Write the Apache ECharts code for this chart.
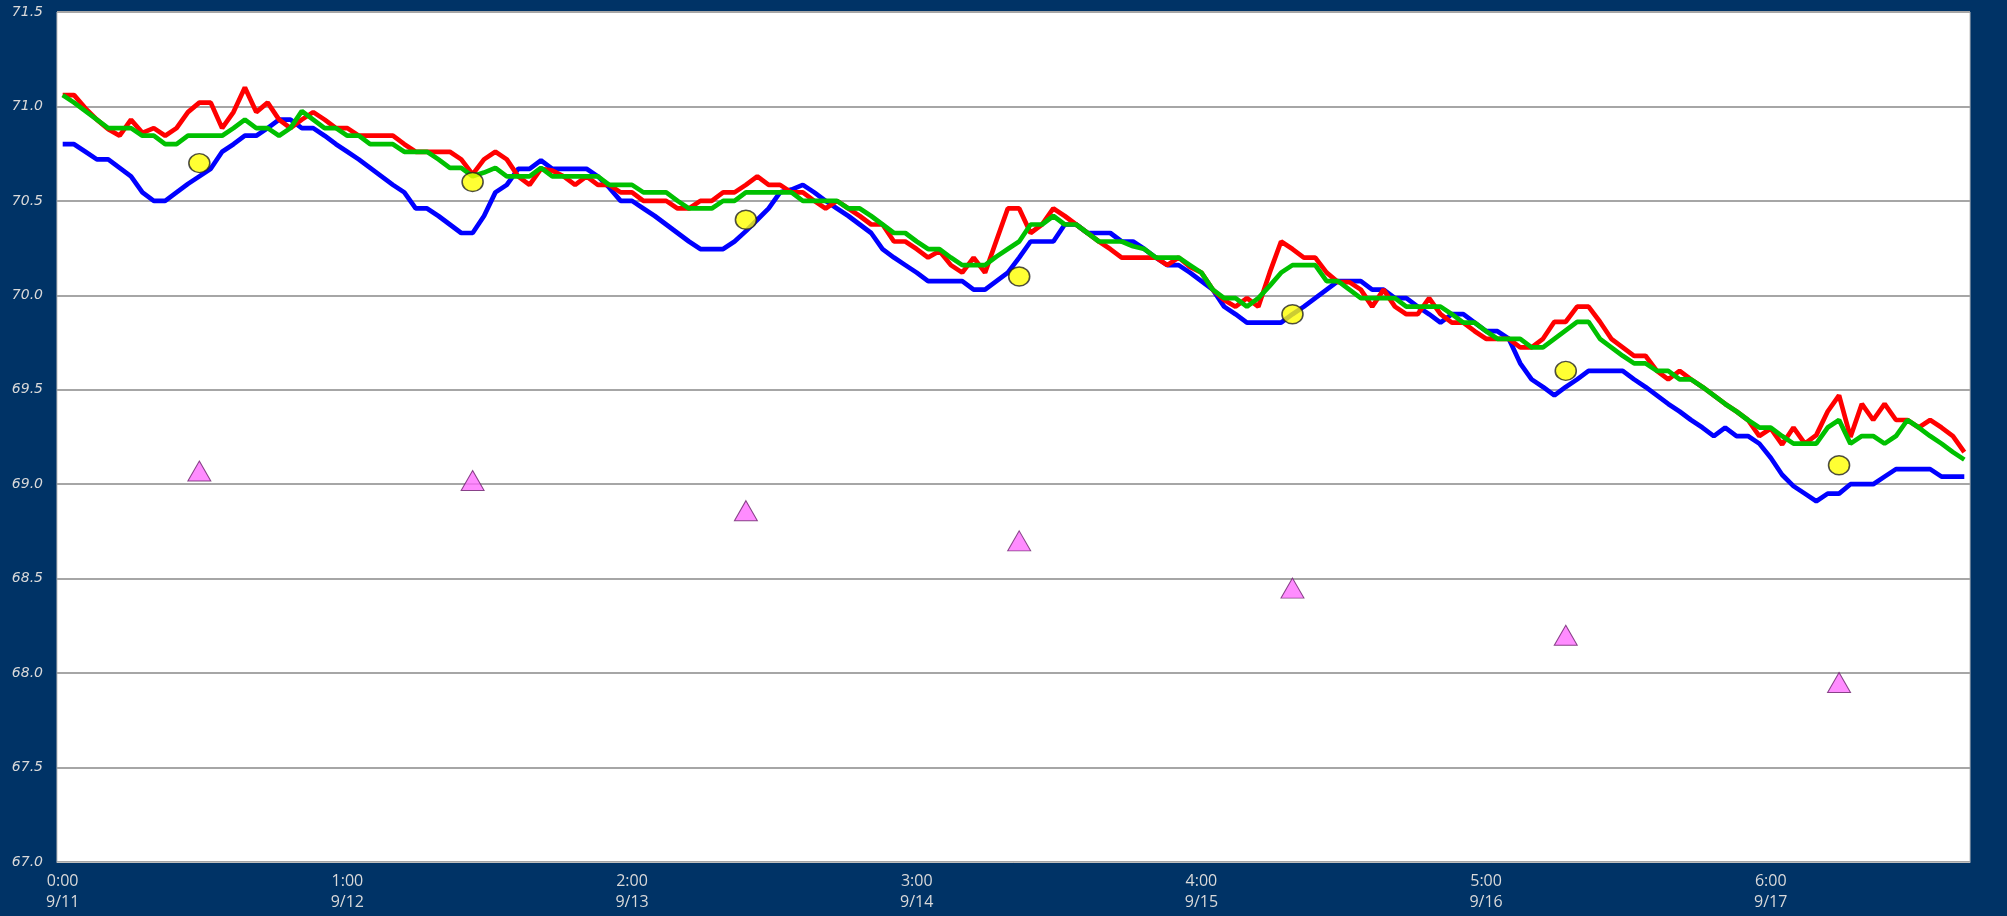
<!DOCTYPE html>
<html>
<head>
<meta charset="utf-8">
<script src="https://cdn.jsdelivr.net/npm/echarts@6/dist/echarts.min.js"></script>
<style>
html, body { margin: 0; padding: 0; background: #003366; }
#chart { width: 2007px; height: 916px; }
</style>
</head>
<body>
<div id="chart"></div>
<script>
// hourly readings 9/11 0:00 .. 9/17 23:00
var days = ['9/11', '9/12', '9/13', '9/14', '9/15', '9/16', '9/17'];
var categories = [];
for (var d = 0; d < days.length; d++) {
	for (var h = 0; h < 24; h++) {
		categories.push(h + ':00\n' + days[d]);
	}
}

var redData = [
	71.06, 71.06, 70.99, 70.93, 70.88, 70.845, 70.93, 70.86, 70.885, 70.845, 70.885, 70.97,
	71.02, 71.02, 70.885, 70.97, 71.10, 70.97, 71.02, 70.93, 70.885, 70.93, 70.97, 70.93,
	70.885, 70.885, 70.845, 70.845, 70.845, 70.845, 70.80, 70.76, 70.76, 70.76, 70.76, 70.72,
	70.64, 70.72, 70.76, 70.72, 70.63, 70.585, 70.67, 70.66, 70.63, 70.585, 70.63, 70.585,
	70.585, 70.545, 70.545, 70.50, 70.50, 70.50, 70.46, 70.46, 70.50, 70.50, 70.545, 70.545,
	70.585, 70.63, 70.585, 70.585, 70.545, 70.545, 70.50, 70.46, 70.50, 70.46, 70.42, 70.375,
	70.375, 70.285, 70.285, 70.245, 70.20, 70.235, 70.16, 70.12, 70.20, 70.12, 70.29, 70.46,
	70.46, 70.33, 70.375, 70.46, 70.42, 70.375, 70.33, 70.285, 70.245, 70.20, 70.20, 70.20,
	70.20, 70.16, 70.20, 70.15, 70.12, 70.03, 69.975, 69.94, 69.985, 69.94, 70.12, 70.285,
	70.245, 70.20, 70.20, 70.12, 70.07, 70.07, 70.03, 69.94, 70.03, 69.94, 69.90, 69.90,
	69.985, 69.90, 69.855, 69.855, 69.81, 69.77, 69.77, 69.77, 69.725, 69.725, 69.77, 69.86,
	69.86, 69.94, 69.94, 69.86, 69.77, 69.725, 69.68, 69.68, 69.60, 69.555, 69.60, 69.555,
	69.515, 69.47, 69.425, 69.385, 69.34, 69.255, 69.295, 69.21, 69.30, 69.215, 69.26, 69.385,
	69.47, 69.25, 69.425, 69.34, 69.425, 69.34, 69.34, 69.30, 69.34, 69.30, 69.255, 69.17
];

var blueData = [
	70.80, 70.80, 70.76, 70.72, 70.72, 70.675, 70.63, 70.545, 70.50, 70.50, 70.545, 70.59,
	70.63, 70.67, 70.76, 70.80, 70.845, 70.845, 70.885, 70.93, 70.93, 70.885, 70.885, 70.845,
	70.80, 70.76, 70.72, 70.675, 70.63, 70.585, 70.545, 70.46, 70.46, 70.42, 70.375, 70.33,
	70.33, 70.42, 70.545, 70.585, 70.67, 70.67, 70.715, 70.67, 70.67, 70.67, 70.67, 70.63,
	70.57, 70.50, 70.50, 70.46, 70.42, 70.375, 70.33, 70.285, 70.245, 70.245, 70.245, 70.285,
	70.34, 70.40, 70.46, 70.545, 70.56, 70.585, 70.545, 70.50, 70.46, 70.42, 70.375, 70.33,
	70.245, 70.20, 70.16, 70.12, 70.075, 70.075, 70.075, 70.075, 70.03, 70.03, 70.075, 70.12,
	70.20, 70.285, 70.285, 70.285, 70.375, 70.375, 70.33, 70.33, 70.33, 70.285, 70.285, 70.245,
	70.20, 70.16, 70.16, 70.12, 70.075, 70.03, 69.94, 69.90, 69.855, 69.855, 69.855, 69.855,
	69.90, 69.94, 69.985, 70.03, 70.075, 70.075, 70.075, 70.03, 70.03, 69.985, 69.985, 69.94,
	69.90, 69.855, 69.90, 69.90, 69.855, 69.81, 69.81, 69.77, 69.64, 69.555, 69.515, 69.47,
	69.515, 69.555, 69.60, 69.60, 69.60, 69.60, 69.555, 69.515, 69.47, 69.425, 69.385, 69.34,
	69.30, 69.255, 69.30, 69.255, 69.255, 69.215, 69.14, 69.05, 68.99, 68.95, 68.91, 68.95,
	68.95, 69.00, 69.00, 69.00, 69.04, 69.08, 69.08, 69.08, 69.08, 69.04, 69.04, 69.04
];

var greenData = [
	71.06, 71.02, 70.975, 70.93, 70.885, 70.885, 70.885, 70.845, 70.845, 70.80, 70.80, 70.845,
	70.845, 70.845, 70.845, 70.885, 70.93, 70.885, 70.885, 70.845, 70.885, 70.975, 70.93, 70.885,
	70.885, 70.845, 70.845, 70.80, 70.80, 70.80, 70.76, 70.76, 70.76, 70.72, 70.675, 70.675,
	70.63, 70.65, 70.675, 70.63, 70.63, 70.63, 70.675, 70.63, 70.63, 70.63, 70.63, 70.63,
	70.585, 70.585, 70.585, 70.545, 70.545, 70.545, 70.50, 70.46, 70.46, 70.46, 70.50, 70.50,
	70.545, 70.545, 70.545, 70.545, 70.545, 70.50, 70.50, 70.50, 70.50, 70.46, 70.46, 70.42,
	70.375, 70.33, 70.33, 70.285, 70.245, 70.245, 70.20, 70.16, 70.16, 70.16, 70.205, 70.245,
	70.285, 70.375, 70.375, 70.42, 70.375, 70.375, 70.33, 70.285, 70.285, 70.285, 70.26, 70.245,
	70.20, 70.20, 70.20, 70.16, 70.12, 70.03, 69.985, 69.985, 69.94, 69.985, 70.05, 70.12,
	70.16, 70.16, 70.16, 70.075, 70.075, 70.03, 69.985, 69.985, 69.985, 69.985, 69.94, 69.94,
	69.94, 69.94, 69.90, 69.855, 69.855, 69.81, 69.77, 69.77, 69.77, 69.725, 69.725, 69.77,
	69.815, 69.86, 69.86, 69.77, 69.725, 69.68, 69.64, 69.64, 69.60, 69.60, 69.555, 69.555,
	69.515, 69.47, 69.425, 69.385, 69.34, 69.30, 69.30, 69.255, 69.215, 69.215, 69.215, 69.30,
	69.34, 69.215, 69.255, 69.255, 69.215, 69.255, 69.34, 69.30, 69.255, 69.215, 69.17, 69.13
];

// daily noon points (index into categories)
var noonIdx = [12, 36, 60, 84, 108, 132, 156];
var circleValues = [70.7, 70.6, 70.4, 70.1, 69.9, 69.6, 69.1];
var triangleValues = [69.07, 69.02, 68.86, 68.70, 68.45, 68.20, 67.95];

function pairs(idx, vals) {
	var out = [];
	for (var i = 0; i < idx.length; i++) {
		out.push([idx[i], vals[i]]);
	}
	return out;
}

var chart = echarts.init(document.getElementById('chart'));
chart.setOption({
	backgroundColor: '#003366',
	animation: false,
	grid: {
		left: 57,
		right: 37,
		top: 12,
		bottom: 54,
		show: true,
		backgroundColor: '#ffffff',
		borderColor: '#bfbfbf',
		borderWidth: 1
	},
	xAxis: {
		type: 'category',
		data: categories,
		boundaryGap: true,
		axisLine: { show: true, lineStyle: { color: '#bfbfbf', width: 1 } },
		axisTick: { show: false },
		axisLabel: {
			interval: 24,
			color: '#d9d9d9',
			fontFamily: 'Open Sans',
			fontSize: 16,
			lineHeight: 21,
			margin: 9
		},
		splitLine: { show: false }
	},
	yAxis: {
		type: 'value',
		min: 67,
		max: 71.5,
		interval: 0.5,
		axisLine: { show: false },
		axisTick: { show: false },
		axisLabel: {
			color: '#d9d9d9',
			fontFamily: 'DejaVu Sans',
			fontStyle: 'italic',
			fontSize: 14,
			margin: 14,
			formatter: function (v) { return v.toFixed(1); }
		},
		splitLine: { show: true, lineStyle: { color: '#a6a6a6', width: 2 } }
	},
	series: [{
		name: 'blue',
		type: 'line',
		data: blueData,
		showSymbol: false,
		lineStyle: { color: '#0000ff', width: 4.7 },
		z: 2
	}, {
		name: 'red',
		type: 'line',
		data: redData,
		showSymbol: false,
		lineStyle: { color: '#ff0000', width: 4.7 },
		z: 3
	}, {
		name: 'green',
		type: 'line',
		data: greenData,
		showSymbol: false,
		lineStyle: { color: '#00c000', width: 4.7 },
		z: 4
	}, {
		name: 'noon',
		type: 'scatter',
		data: pairs(noonIdx, circleValues),
		symbol: 'circle',
		symbolSize: [21, 19],
		itemStyle: { color: '#ffff00', borderColor: '#222222', borderWidth: 1.5 },
		z: 5
	}, {
		name: 'low',
		type: 'scatter',
		data: pairs(noonIdx, triangleValues),
		symbol: 'triangle',
		symbolSize: [23, 20],
		itemStyle: { color: '#ff6fff', borderColor: '#6a206a', borderWidth: 1 },
		z: 5
	}]
});
</script>
</body>
</html>
